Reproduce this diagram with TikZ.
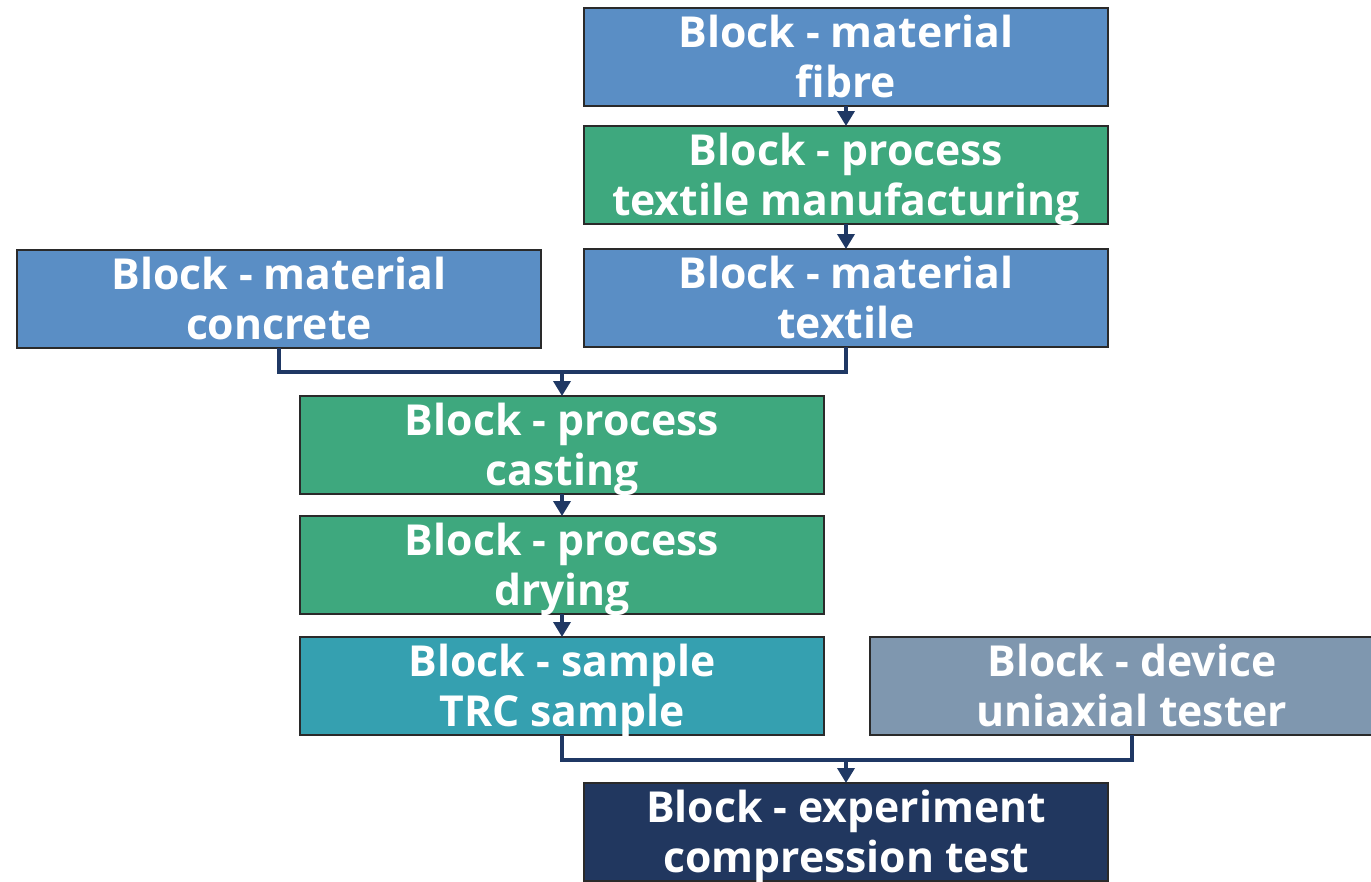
\documentclass[tikz,border=0pt]{standalone}
\usepackage{fontspec}
\setmainfont{Open Sans}
\usetikzlibrary{arrows.meta}
\definecolor{matblue}{HTML}{5A8EC5}
\definecolor{procgreen}{HTML}{3EA87E}
\definecolor{sampteal}{HTML}{35A0B0}
\definecolor{devgrey}{HTML}{7F97AF}
\definecolor{expnavy}{HTML}{21375F}
\definecolor{edge}{HTML}{2A2A2A}
\definecolor{conn}{HTML}{1F3864}
\tikzset{
  blockbox/.style={draw=edge, line width=2.5pt, minimum width=524pt, minimum height=98pt, inner sep=0pt, outer sep=0pt},
  btext/.style={text=white, font=\bfseries\fontsize{42.7}{50}\selectfont, anchor=base, inner sep=0pt},
  conn/.style={draw=conn, line width=3.5pt},
  arr/.style={conn, -{Triangle[width=17pt,length=15pt]}}
}
\newcommand\blockat[6]{%
  \node[blockbox, fill=#2] (#1) at (#3,#4) {};
  \node[btext] (#1-a) at ([yshift=10pt]#1.center) {#5};
  \node[btext] (#1-b) at ([yshift=-40pt]#1.center) {#6};
}
\begin{document}
\begin{tikzpicture}[x=1pt,y=-1pt]
\useasboundingbox (0,0) rectangle (1371,881);
\begin{scope}
\clip (0,0) rectangle (1371,881);
\blockat{fibre}{matblue}{846}{57}{Block - material}{fibre}
\blockat{manuf}{procgreen}{846}{175}{Block - process}{textile manufacturing}
\blockat{textile}{matblue}{846}{298}{Block - material}{textile}
\blockat{concrete}{matblue}{279}{299}{Block - material}{concrete}
\blockat{casting}{procgreen}{562}{445}{Block - process}{casting}
\blockat{drying}{procgreen}{562}{565}{Block - process}{drying}
\blockat{sample}{sampteal}{562}{686}{Block - sample}{TRC sample}
\blockat{tester}{devgrey}{1132}{686}{Block - device}{uniaxial tester}
\blockat{exper}{expnavy}{846}{832}{Block - experiment}{compression test}

\coordinate (j1) at (562,372);
\coordinate (j2) at (846,760);
\draw[conn] (concrete.south) |- (j1) -| (textile.south);
\draw[arr] (j1) -- (casting.north);
\draw[conn] (sample.south) |- (j2) -| (tester.south);
\draw[arr] (j2) -- (exper.north);
\draw[arr] (fibre.south) -- (manuf.north);
\draw[arr] (manuf.south) -- (textile.north);
\draw[arr] (casting.south) -- (drying.north);
\draw[arr] (drying.south) -- (sample.north);
\end{scope}
\end{tikzpicture}
\end{document}
